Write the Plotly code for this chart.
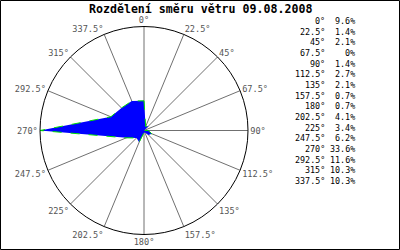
import plotly.graph_objects as go

directions = [0, 22.5, 45, 67.5, 90, 112.5, 135, 157.5, 180, 202.5, 225, 247.5, 270, 292.5, 315, 337.5]
dir_labels = ["0°", "22.5°", "45°", "67.5°", "90°", "112.5°", "135°", "157.5°", "180°",
              "202.5°", "225°", "247.5°", "270°", "292.5°", "315°", "337.5°"]
percent = [9.6, 1.4, 2.1, 0, 1.4, 2.7, 2.1, 0.7, 0.7, 4.1, 3.4, 6.2, 33.6, 11.6, 10.3, 10.3]
percent_labels = ["9.6%", "1.4%", "2.1%", "0%", "1.4%", "2.7%", "2.1%", "0.7%", "0.7%",
                  "4.1%", "3.4%", "6.2%", "33.6%", "11.6%", "10.3%", "10.3%"]
title = "Rozdělení směru větru 09.08.2008"

W, H = 400, 250
mono = "DejaVu Sans Mono"

fig = go.Figure()
fig.add_trace(go.Scatterpolar(
    r=percent + [percent[0]],
    theta=directions + [directions[0]],
    mode="lines",
    fill="toself",
    fillcolor="#0000FF",
    line=dict(color="#00E000", width=1, dash="dash"),
    hoverinfo="skip",
))

annotations = [dict(text="<b>%s</b>" % title, x=0.5, y=1 - 8.5 / H, xref="paper", yref="paper",
                    xanchor="center", yanchor="middle", showarrow=False,
                    font=dict(family=mono, size=11.6, color="black"))]
for i, (dl, pl) in enumerate(zip(dir_labels, percent_labels)):
    ypx = 21 + i * 10.67
    annotations.append(dict(text=dl, x=327 / W, y=1 - ypx / H, xref="paper", yref="paper",
                            xanchor="right", yanchor="middle", showarrow=False,
                            font=dict(family=mono, size=8.4, color="black")))
    annotations.append(dict(text=pl, x=357 / W, y=1 - ypx / H, xref="paper", yref="paper",
                            xanchor="right", yanchor="middle", showarrow=False,
                            font=dict(family=mono, size=8.4, color="black")))

fig.update_layout(
    width=W, height=H,
    margin=dict(l=0, r=0, t=0, b=0),
    paper_bgcolor="white",
    plot_bgcolor="white",
    showlegend=False,
    polar=dict(
        domain=dict(x=[40 / W, 248 / W], y=[15.5 / H, 223.5 / H]),
        bgcolor="white",
        radialaxis=dict(range=[0, 33.6], visible=False, showgrid=False),
        angularaxis=dict(
            direction="clockwise", rotation=90,
            tickmode="array", tickvals=directions, ticktext=dir_labels,
            showline=True, linecolor="black", linewidth=1,
            showgrid=True, gridcolor="#707070", gridwidth=1,
            ticks="", ticklen=0, tickfont=dict(family=mono, size=8.6, color="#555555"),
        ),
    ),
    annotations=annotations,
    shapes=[dict(type="rect", xref="paper", yref="paper", x0=0.5 / W, x1=1 - 0.5 / W,
                 y0=0.5 / H, y1=1 - 0.5 / H, line=dict(color="black", width=1))],
)

fig.write_html("out.html")
